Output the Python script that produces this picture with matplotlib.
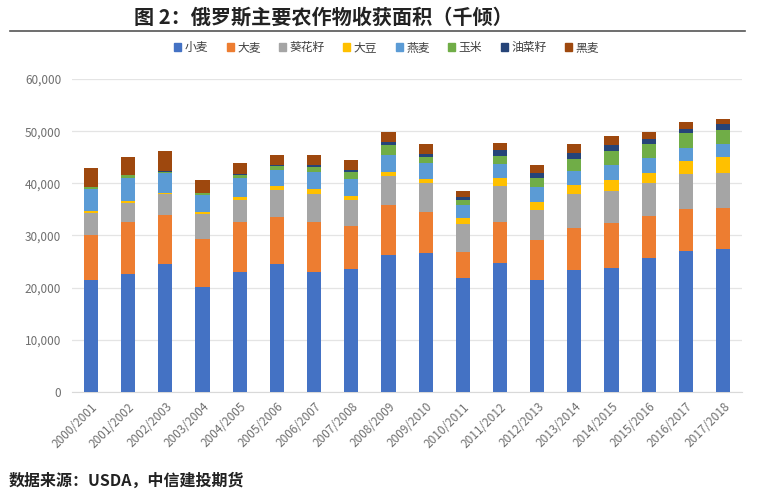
import matplotlib
matplotlib.use("Agg")
import matplotlib.pyplot as plt
import numpy as np
from matplotlib.lines import Line2D
from matplotlib.ticker import FuncFormatter

plt.rcParams['font.family'] = ['Noto Sans CJK SC', 'DejaVu Sans']

years = ['2000/2001', '2001/2002', '2002/2003', '2003/2004', '2004/2005', '2005/2006',
         '2006/2007', '2007/2008', '2008/2009', '2009/2010', '2010/2011', '2011/2012',
         '2012/2013', '2013/2014', '2014/2015', '2015/2016', '2016/2017', '2017/2018']

crops = ['小麦', '大麦', '葵花籽', '大豆', '燕麦', '玉米', '油菜籽', '黑麦']

wheat = [21.5, 22.7, 24.5, 20.2, 23.0, 24.6, 23.0, 23.5, 26.2, 26.6, 21.8, 24.8, 21.5, 23.4, 23.7, 25.6, 27.1, 27.5]
barley = [8.6, 9.9, 9.5, 9.2, 9.6, 9.0, 9.6, 8.3, 9.6, 7.9, 5.1, 7.8, 7.6, 8.0, 8.7, 8.1, 7.9, 7.7]
sunflower = [4.2, 3.6, 3.9, 4.7, 4.2, 5.1, 5.4, 5.0, 5.6, 5.5, 5.3, 6.9, 5.8, 6.5, 6.2, 6.3, 6.8, 6.7]
soybean = [0.4, 0.4, 0.3, 0.4, 0.6, 0.8, 0.9, 0.8, 0.8, 0.9, 1.2, 1.5, 1.6, 1.8, 2.0, 2.0, 2.5, 3.1]
oats = [4.3, 4.5, 3.7, 3.3, 3.6, 3.0, 3.3, 3.3, 3.2, 2.9, 2.4, 2.7, 2.7, 2.7, 2.9, 2.8, 2.4, 2.5]
corn = [0.2, 0.4, 0.3, 0.3, 0.5, 0.8, 0.9, 1.2, 1.9, 1.3, 1.0, 1.6, 1.9, 2.2, 2.7, 2.7, 2.9, 2.8]
rapeseed = [0.1, 0.1, 0.1, 0.1, 0.2, 0.2, 0.4, 0.5, 0.7, 0.6, 0.6, 1.0, 0.9, 1.3, 1.1, 0.9, 0.9, 1.0]
rye = [3.6, 3.4, 3.8, 2.4, 2.1, 2.0, 2.0, 1.9, 1.9, 1.8, 1.2, 1.4, 1.5, 1.6, 1.7, 1.4, 1.3, 1.0]

colors = ['#4472C4', '#ED7D31', '#A5A5A5', '#FFC000', '#5B9BD5', '#70AD47', '#264478', '#9E480E']

series = [wheat, barley, sunflower, soybean, oats, corn, rapeseed, rye]

fig = plt.figure(figsize=(7.58, 4.98), dpi=100)
ax = fig.add_axes([0.0955, 0.2129, 0.883, 0.6285])

x = np.arange(len(years))
bottom = np.zeros(len(years))
for vals, c in zip(series, colors):
    v = np.array(vals) * 1000
    ax.bar(x, v, width=0.38, bottom=bottom, color=c, zorder=3)
    bottom += v

ax.set_xlim(-0.5, len(years) - 0.5)
ax.set_ylim(0, 60000)
ax.set_yticks(np.arange(0, 60001, 10000))
ax.yaxis.set_major_formatter(FuncFormatter(lambda v, p: f'{int(v):,}'))
ax.grid(axis='y', color='#e4e4e4', linewidth=0.9, zorder=0)
for s in ['top', 'right', 'left']:
    ax.spines[s].set_visible(False)
ax.spines['bottom'].set_color('#d9d9d9')
ax.tick_params(axis='both', length=0, colors='#6f6f6f', labelsize=8.5)
ax.tick_params(axis='y', pad=8)
ax.set_xticks(x)
ax.set_xticklabels(years, rotation=45, ha='right', rotation_mode='anchor')
ax.tick_params(axis='x', pad=6)

# title and rule
fig.text(0.426, 0.966, '图 2：俄罗斯主要农作物收获面积（千倾）', ha='center', va='center',
         fontsize=14.5, fontweight='bold', color='#222222')
fig.add_artist(Line2D([0.013, 0.983], [0.938, 0.938], color='#555555', linewidth=1.2))

handles = [plt.Rectangle((0, 0), 1, 1, color=c) for c in colors]
fig.legend(handles, crops, loc='center', bbox_to_anchor=(0.51, 0.904), ncol=8,
           frameon=False, fontsize=8.5, handlelength=0.6, handleheight=0.6,
           handletextpad=0.3, columnspacing=1.55, labelcolor='#404040')

fig.text(0.012, 0.035, '数据来源：USDA，中信建投期货', ha='left', va='center',
         fontsize=11.5, fontweight='bold', color='#222222')

fig.savefig('out.png', dpi=100)
